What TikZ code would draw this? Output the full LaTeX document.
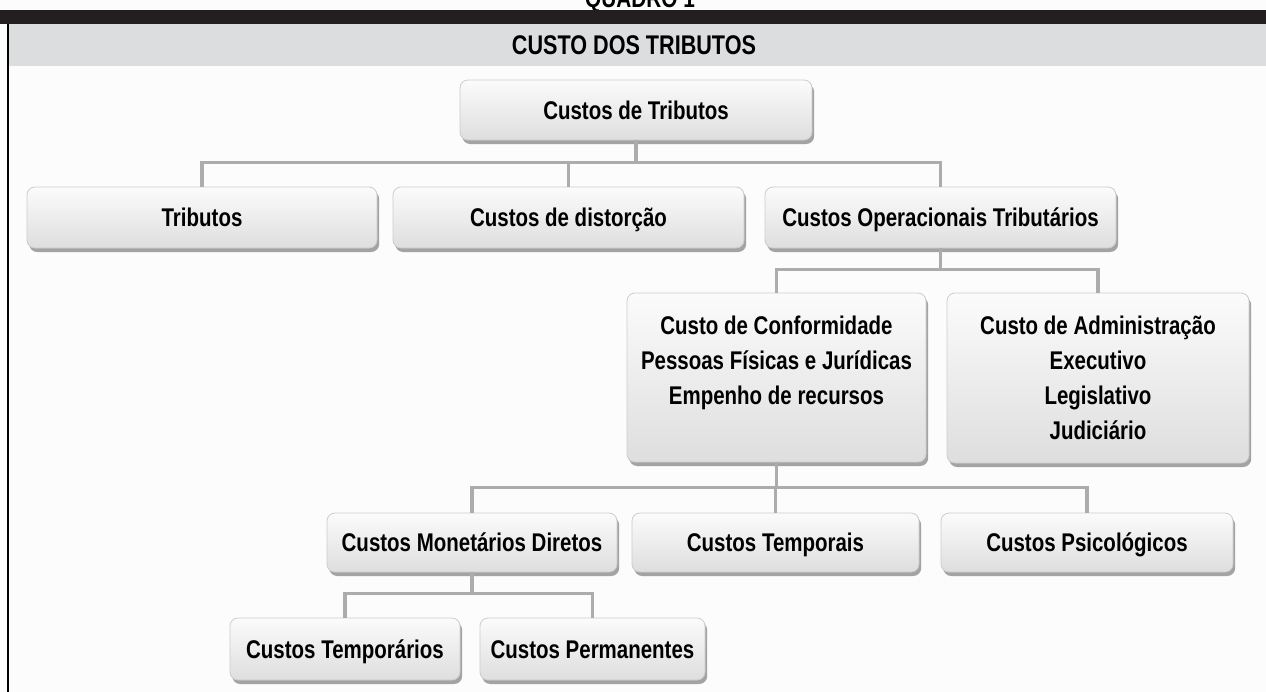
\documentclass[tikz,border=0pt]{standalone}
\usepackage{fontspec}
\setmainfont{Liberation Sans}[FakeStretch=0.8]
\usetikzlibrary{shadows}

\definecolor{bandblack}{HTML}{231F20}
\definecolor{bandgray}{HTML}{DCDDDF}
\definecolor{paper}{HTML}{FCFCFC}

\tikzset{
  cbox/.style={rounded corners=4pt, draw=gray!40, top color=gray!3, bottom color=gray!26,
    drop shadow={shadow xshift=1.1pt, shadow yshift=-2pt, fill=gray!72, opacity=1},
    align=center, inner sep=0pt, font=\bfseries\fontsize{12.8}{17.5}\selectfont},
  oneline/.style={text height=10.4pt, text depth=1.4pt},
  sz/.style 2 args={minimum width=#1*0.5pt, minimum height=#2*0.5pt},
  conn/.style={draw=gray!65, line width=1.7pt}
}

\begin{document}
\begin{tikzpicture}[x=0.5pt,y=-0.5pt]
\useasboundingbox (0,0) rectangle (1266,692);
\fill[paper] (0,0) rectangle (1266,692);

% cabecalho
\node[anchor=base, font=\bfseries\fontsize{13}{15}\selectfont] (quadro) at (640,7) {QUADRO 1};
\fill[bandblack] (0,10) rectangle (1266,23.5);
\fill[bandgray] (8,23.5) rectangle (1266,66);
\draw[black, line width=0.7pt] (8,23.5) -- (8,692);
\node[font=\bfseries\fontsize{13.5}{15}\selectfont] (titulo) at (634,45) {CUSTO DOS TRIBUTOS};

% caixas
\node[cbox, oneline, sz={352}{60}] (top) at (636,110) {Custos de Tributos};
\node[cbox, oneline, sz={350}{61}] (trib) at (202,217.5) {Tributos};
\node[cbox, oneline, sz={351}{61}] (dist) at (568.5,217.5) {Custos de distorção};
\node[cbox, oneline, sz={351}{61}] (oper) at (940.5,217.5) {Custos Operacionais Tributários};
\node[cbox, sz={299}{169}] (conf) at (776.5,377.5)
  {Custo de Conformidade\\Pessoas Físicas e Jurídicas\\Empenho de recursos\\\mbox{}};
\node[cbox, sz={302}{170}] (adm) at (1098,378)
  {Custo de Administração\\Executivo\\Legislativo\\Judiciário};
\node[cbox, oneline, sz={290}{59}] (mon) at (472,542.5) {Custos Monetários Diretos};
\node[cbox, oneline, sz={287}{59}] (temp) at (775.5,542.5) {Custos Temporais};
\node[cbox, oneline, sz={292}{59}] (psi) at (1087,542.5) {Custos Psicológicos};
\node[cbox, oneline, sz={230}{62}] (tmpr) at (345,649) {Custos Temporários};
\node[cbox, oneline, sz={225}{62}] (perm) at (592.5,649) {Custos Permanentes};

% ligacoes
\foreach \c in {trib,dist,oper}
  \draw[conn] (top.south) -- ++(0,22) -| (\c.north);
\foreach \c in {conf,adm}
  \draw[conn] (oper.south) -- ++(0,21) -| (\c.north);
\foreach \c in {mon,temp,psi}
  \draw[conn] (conf.south) -- ++(0,25) -| (\c.north);
\foreach \c in {tmpr,perm}
  \draw[conn] (mon.south) -- ++(0,21) -| (\c.north);
\end{tikzpicture}
\end{document}
